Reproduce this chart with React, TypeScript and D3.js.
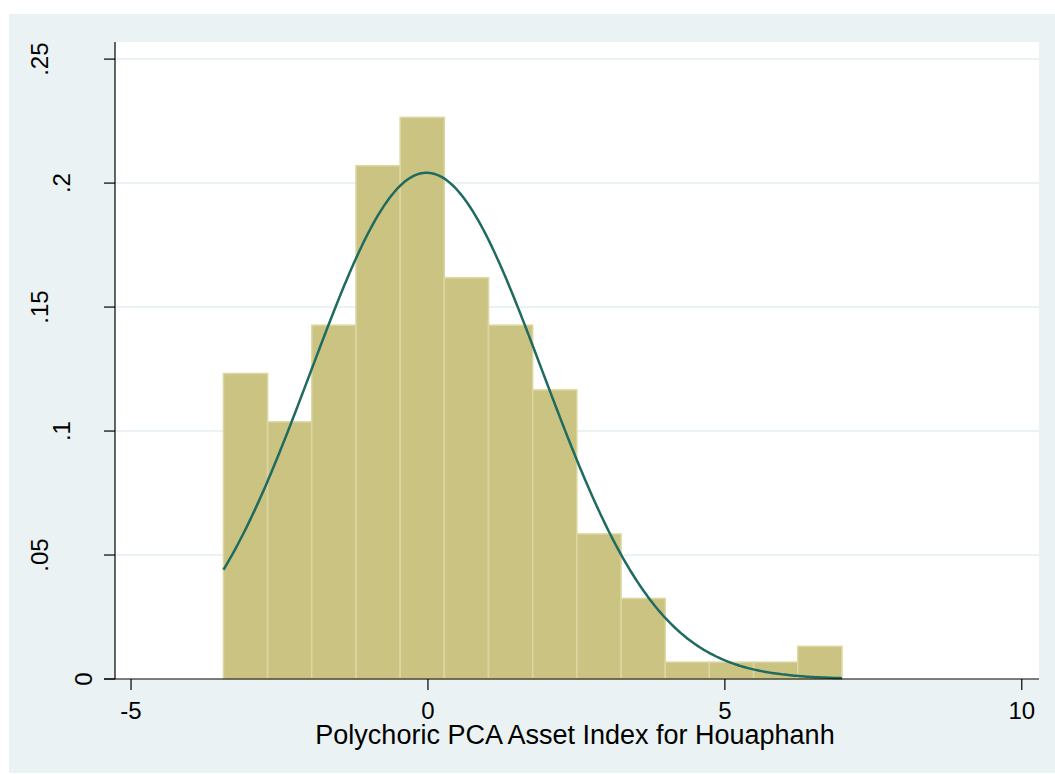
import React from "react";
import * as d3 from "d3";

// ---- data ----
const binStart = -3.444;
const binWidth = 0.744;
const densities = [0.1232, 0.1037, 0.1427, 0.2070, 0.2265, 0.1618, 0.1427, 0.1166, 0.0585, 0.0325, 0.0068, 0.0068, 0.0068, 0.0132];
const normalMean = -0.022;
const normalSd = 1.954;
const xTicks = [-5, 0, 5, 10];
const yTicks = [0, 0.05, 0.1, 0.15, 0.2, 0.25];
const yTickLabels = ["0", ".05", ".1", ".15", ".2", ".25"];
const xTitle = "Polychoric PCA Asset Index for Houaphanh";

const W = 1055;
const H = 774;
const plot = { left: 115, right: 1039, top: 42, bottom: 679 };

export default function App() {
  const x = d3.scaleLinear().domain([-5.27, 10.29]).range([plot.left, plot.right]);
  const y = d3.scaleLinear().domain([0, 0.2569]).range([plot.bottom, plot.top]);

  const bins = densities.map((d, i) => ({
    x0: binStart + i * binWidth,
    x1: binStart + (i + 1) * binWidth,
    d,
  }));
  const xEnd = binStart + densities.length * binWidth;
  const pdf = (v: number) =>
    Math.exp(-0.5 * ((v - normalMean) / normalSd) ** 2) / (normalSd * Math.sqrt(2 * Math.PI));
  const curvePts = d3.range(0, 301).map((k) => {
    const v = binStart + ((xEnd - binStart) * k) / 300;
    return [v, pdf(v)] as [number, number];
  });
  const line = d3
    .line<[number, number]>()
    .x((p) => x(p[0]))
    .y((p) => y(p[1]))
    .curve(d3.curveLinear);

  const font = "'Liberation Sans', Arial, sans-serif";

  return (
    <svg
      width={W}
      height={H}
      style={{ position: "absolute", left: 0, top: 0, display: "block" }}
      fontFamily={font}
    >
      <rect x={0} y={0} width={W} height={H} fill="#ffffff" />
      <rect x={9} y={14} width={W - 9} height={773 - 14} fill="#eaf2f3" />
      <rect
        x={plot.left}
        y={plot.top}
        width={plot.right - plot.left}
        height={plot.bottom - plot.top}
        fill="#ffffff"
      />
      {/* gridlines */}
      {yTicks
        .filter((t) => t > 0)
        .map((t) => (
          <line
            key={"g" + t}
            x1={plot.left}
            x2={plot.right}
            y1={y(t)}
            y2={y(t)}
            stroke="#eaf2f3"
            strokeWidth={2}
          />
        ))}
      {/* bars */}
      {bins.map((b, i) => (
        <rect
          key={"b" + i}
          x={x(b.x0)}
          y={y(b.d)}
          width={x(b.x1) - x(b.x0)}
          height={y(0) - y(b.d)}
          fill="#cbc382"
          stroke="#dcd7a2"
          strokeWidth={1.5}
        />
      ))}
      {/* normal curve */}
      <path d={line(curvePts) || ""} fill="none" stroke="#1f6b60" strokeWidth={2.5} />
      {/* axes */}
      <line x1={plot.left} x2={plot.left} y1={plot.top} y2={plot.bottom} stroke="#000" strokeWidth={1.2} />
      <line x1={plot.left - 11} x2={plot.right} y1={plot.bottom} y2={plot.bottom} stroke="#000" strokeWidth={1.2} />
      {yTicks.map((t, i) => (
        <g key={"yt" + t}>
          <line x1={plot.left - 11} x2={plot.left} y1={y(t)} y2={y(t)} stroke="#000" strokeWidth={1.2} />
          <text
            transform={`translate(${105 - 22 * yTickLabels[i].length},${y(t)}) rotate(-90)`}
            textAnchor="middle"
            dominantBaseline="central"
            fontSize={24}
            fill="#000"
          >
            {yTickLabels[i]}
          </text>
        </g>
      ))}
      {xTicks.map((t) => (
        <g key={"xt" + t}>
          <line x1={x(t)} x2={x(t)} y1={plot.bottom} y2={plot.bottom + 11} stroke="#000" strokeWidth={1.2} />
          <text x={x(t)} y={719} textAnchor="middle" fontSize={24} fill="#000">
            {t}
          </text>
        </g>
      ))}
      <text x={575} y={744} textAnchor="middle" fontSize={27} fill="#000">
        {xTitle}
      </text>
    </svg>
  );
}
